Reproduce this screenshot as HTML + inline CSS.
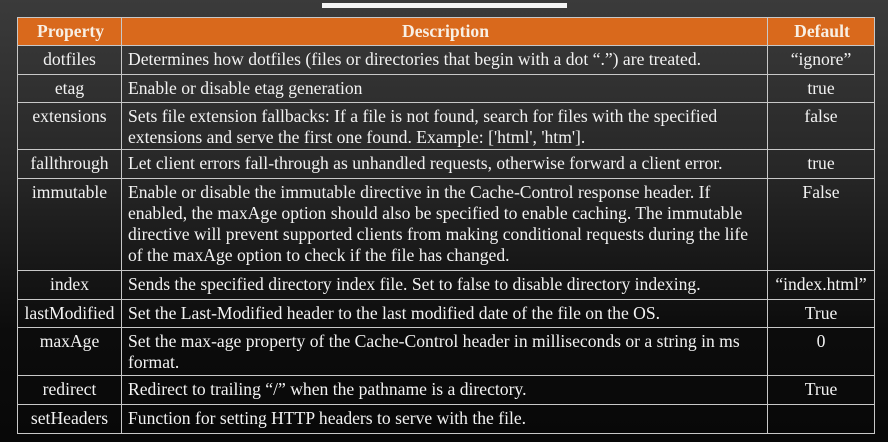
<!DOCTYPE html>
<html><head><meta charset="utf-8"><style>
html,body{margin:0;padding:0}
body{width:888px;height:442px;overflow:hidden;background:linear-gradient(#3b3b3b 0%,#262626 40%,#0c0c0c 75%,#080808 100%);position:relative;font-family:"Liberation Serif","Times New Roman",serif;color:#f2f2f2}
.bar{position:absolute;left:322px;top:3px;width:245px;height:5px;background:#f4f4f4}
table{position:absolute;left:17px;top:17px;width:857px;border-collapse:collapse;table-layout:fixed}
td,th{border:1.5px solid #c8c8c8;font-size:17.6px;line-height:21px;padding:3px 4px 0 6px;vertical-align:top;box-sizing:border-box;white-space:nowrap;overflow:hidden}
th{background:#d9691c;color:#f8efe4;font-weight:bold;height:28px;text-align:center;padding-top:3px}
td.c{text-align:center;padding-left:2px;padding-right:2px}
</style></head><body>
<div class="bar"></div>
<table>
<colgroup><col style="width:104px"><col style="width:646px"><col style="width:107px"></colgroup>
<tr><th>Property</th><th>Description</th><th>Default</th></tr>
<tr style="height:29px"><td class="c">dotfiles</td><td>Determines how dotfiles (files or directories that begin with a dot “.”) are treated.</td><td class="c">“ignore”</td></tr>
<tr style="height:28px"><td class="c">etag</td><td>Enable or disable etag generation</td><td class="c">true</td></tr>
<tr style="height:47px"><td class="c">extensions</td><td>Sets file extension fallbacks: If a file is not found, search for files with the specified<br>extensions and serve the first one found. Example: ['html', 'htm'].</td><td class="c">false</td></tr>
<tr style="height:29px"><td class="c">fallthrough</td><td>Let client errors fall-through as unhandled requests, otherwise forward a client error.</td><td class="c">true</td></tr>
<tr style="height:92px"><td class="c">immutable</td><td>Enable or disable the immutable directive in the Cache-Control response header. If<br>enabled, the maxAge option should also be specified to enable caching. The immutable<br>directive will prevent supported clients from making conditional requests during the life<br>of the maxAge option to check if the file has changed.</td><td class="c">False</td></tr>
<tr style="height:29px"><td class="c">index</td><td>Sends the specified directory index file. Set to false to disable directory indexing.</td><td class="c">“index.html”</td></tr>
<tr style="height:28px"><td class="c">lastModified</td><td>Set the Last-Modified header to the last modified date of the file on the OS.</td><td class="c">True</td></tr>
<tr style="height:48px"><td class="c">maxAge</td><td>Set the max-age property of the Cache-Control header in milliseconds or a string in ms<br>format.</td><td class="c">0</td></tr>
<tr style="height:29px"><td class="c">redirect</td><td>Redirect to trailing “/” when the pathname is a directory.</td><td class="c">True</td></tr>
<tr style="height:29px"><td class="c">setHeaders</td><td>Function for setting HTTP headers to serve with the file.</td><td class="c"></td></tr>
</table>
</body></html>
